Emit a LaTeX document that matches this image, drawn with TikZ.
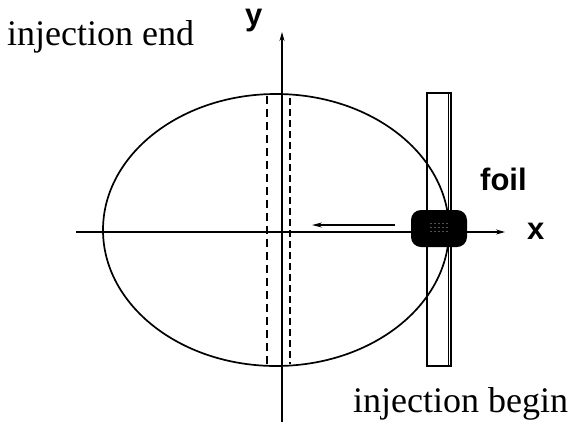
\documentclass[tikz,border=0pt]{standalone}
\usepackage{fontspec}
\setmainfont{Liberation Serif}
\newfontfamily\labsans{Liberation Sans}
\usetikzlibrary{arrows.meta}
\begin{document}
\begin{tikzpicture}[x=1pt,y=-1pt,
  axisline/.style={line width=1.2pt,-{Stealth[length=9pt,width=5pt]}},
  serlabel/.style={inner sep=0pt,anchor=base west,font=\fontsize{36}{40}\selectfont},
  sanlabel/.style={inner sep=0pt,anchor=base west,font=\labsans\bfseries\fontsize{31}{34}\selectfont},
  dashA/.style={line width=1.2pt,dash pattern=on 8pt off 5pt},
  dashB/.style={line width=1.8pt,dash pattern=on 7pt off 4pt}]
\useasboundingbox (0,0) rectangle (571,432);
% foil
\draw[line width=1.3pt] (427,93) rectangle (451,366);
\draw[line width=0.6pt] (448,93) -- (448,366);
% ellipse
\draw[line width=1.7pt] (276,230) ellipse [x radius=173, y radius=136];
% dashed lines
\coordinate (d1t) at (267,96);
\coordinate (d1b) at (267,364);
\coordinate (d2t) at (290,98);
\coordinate (d2b) at (290,364);
\draw[dashA] (d1t) -- (d1b);
\draw[dashB] (d2t) -- (d2b);
% axes
\coordinate (xs) at (76,232);
\coordinate (xe) at (505,232);
\coordinate (ys) at (282,422);
\coordinate (ye) at (282,32);
\draw[axisline] (xs) -- (xe);
\draw[axisline] (ys) -- (ye);
% injection motion arrow
\coordinate (ms) at (395,225);
\coordinate (me) at (312,225);
\draw[line width=1.4pt,-{Stealth[length=10pt,width=5pt]}] (ms) -- (me);
% beam spot
\node[fill=black,rounded corners=10pt,minimum width=56pt,minimum height=37pt,inner sep=0pt] (spot) at (439,228.5) {};
\foreach \i in {-8,-4,...,8}{\foreach \j in {-5,-1,3}{\fill[gray!70] (439+\i,228.5+\j) circle (0.6pt);}}
% labels
\node[serlabel] (iend) at (7,45) {injection end};
\node[serlabel] (ibeg) at (353,412) {injection begin};
\node[sanlabel] (foil) at (480,190) {foil};
\node[sanlabel] (xl) at (527,239) {x};
\node[sanlabel] (yl) at (245,25) {y};
\end{tikzpicture}
\end{document}
